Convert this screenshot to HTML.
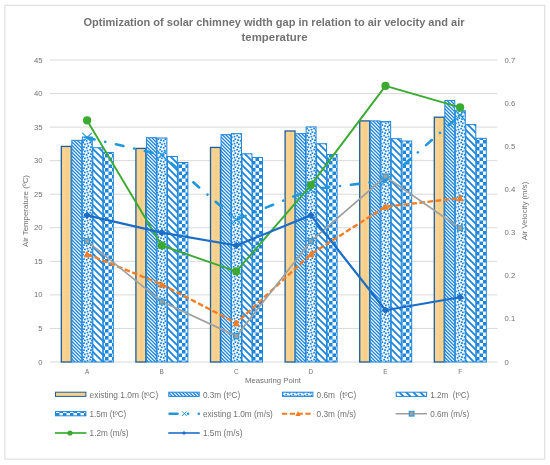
<!DOCTYPE html>
<html lang="en"><head><meta charset="utf-8"><title>Optimization of solar chimney width gap</title>
<style>html,body{margin:0;padding:0;background:#fff}body{width:550px;height:465px;overflow:hidden}svg{display:block;will-change:transform}text{font-family:"Liberation Sans",Arial,sans-serif;fill:#727272}</style></head><body>
<svg width="550" height="465" viewBox="0 0 550 465">
<defs>
<pattern id="pn" patternUnits="userSpaceOnUse" width="7" height="7"><rect width="7" height="7" fill="#fff"/><path d="M-1.00 -8.00l9 9M-1.00 -4.50l9 9M-1.00 -1.00l9 9M-1.00 2.50l9 9M-1.00 6.00l9 9" stroke="#1e86dc" stroke-width="1.3" fill="none"/></pattern>
<pattern id="pw" patternUnits="userSpaceOnUse" width="7" height="7"><rect width="7" height="7" fill="#fff"/><path d="M-1.00 -8.00l9 9M-1.00 -1.00l9 9M-1.00 6.00l9 9" stroke="#1e86dc" stroke-width="1.85" fill="none"/></pattern>
<pattern id="pc" patternUnits="userSpaceOnUse" width="7" height="7"><rect width="7" height="7" fill="#fff"/><rect width="3.5" height="3.5" fill="#1e86dc"/><rect x="3.5" y="3.5" width="3.5" height="3.5" fill="#1e86dc"/></pattern>
<pattern id="pd" patternUnits="userSpaceOnUse" width="7" height="7"><rect width="7" height="7" fill="#fff"/><path d="M0.000 0.000h0.875v0.875h-0.875zM1.750 0.000h0.875v0.875h-0.875zM2.625 0.000h0.875v0.875h-0.875zM6.125 0.000h0.875v0.875h-0.875zM1.750 0.875h0.875v0.875h-0.875zM2.625 0.875h0.875v0.875h-0.875zM5.250 1.750h0.875v0.875h-0.875zM6.125 1.750h0.875v0.875h-0.875zM2.625 2.625h0.875v0.875h-0.875zM3.500 2.625h0.875v0.875h-0.875zM5.250 2.625h0.875v0.875h-0.875zM6.125 2.625h0.875v0.875h-0.875zM0.000 3.500h0.875v0.875h-0.875zM0.875 3.500h0.875v0.875h-0.875zM2.625 3.500h0.875v0.875h-0.875zM3.500 3.500h0.875v0.875h-0.875zM0.000 4.375h0.875v0.875h-0.875zM0.875 4.375h0.875v0.875h-0.875zM3.500 5.250h0.875v0.875h-0.875zM4.375 5.250h0.875v0.875h-0.875zM0.000 6.125h0.875v0.875h-0.875zM3.500 6.125h0.875v0.875h-0.875zM4.375 6.125h0.875v0.875h-0.875zM6.125 6.125h0.875v0.875h-0.875z" fill="#1e86dc"/></pattern>
<linearGradient id="tg" x1="0" y1="0" x2="1" y2="0"><stop offset="0" stop-color="#f5cc88"/><stop offset="0.3" stop-color="#f9d595"/><stop offset="0.55" stop-color="#f5cd8a"/><stop offset="0.8" stop-color="#f9d492"/><stop offset="1" stop-color="#fbdc98"/></linearGradient>
</defs>
<rect x="0" y="0" width="550" height="465" fill="#fff"/>
<rect x="4.9" y="5.2" width="539.8" height="453.9" fill="#fff" stroke="#d9d9d9" stroke-width="1"/>
<text x="274" y="26" text-anchor="middle" font-size="11.2" font-weight="bold" fill="#666666" textLength="381" lengthAdjust="spacingAndGlyphs">Optimization of solar chimney width gap in relation to air velocity and air</text>
<text x="274.5" y="41" text-anchor="middle" font-size="11.2" font-weight="bold" fill="#666666" textLength="66" lengthAdjust="spacingAndGlyphs">temperature</text>
<line x1="49.8" x2="497.4" y1="362.00" y2="362.00" stroke="#d9d9d9" stroke-width="1"/>
<text x="42.6" y="364.50" text-anchor="end" font-size="7.7">0</text>
<line x1="49.8" x2="497.4" y1="328.44" y2="328.44" stroke="#d9d9d9" stroke-width="1"/>
<text x="42.6" y="330.94" text-anchor="end" font-size="7.7">5</text>
<line x1="49.8" x2="497.4" y1="294.89" y2="294.89" stroke="#d9d9d9" stroke-width="1"/>
<text x="42.6" y="297.39" text-anchor="end" font-size="7.7">10</text>
<line x1="49.8" x2="497.4" y1="261.33" y2="261.33" stroke="#d9d9d9" stroke-width="1"/>
<text x="42.6" y="263.83" text-anchor="end" font-size="7.7">15</text>
<line x1="49.8" x2="497.4" y1="227.78" y2="227.78" stroke="#d9d9d9" stroke-width="1"/>
<text x="42.6" y="230.28" text-anchor="end" font-size="7.7">20</text>
<line x1="49.8" x2="497.4" y1="194.22" y2="194.22" stroke="#d9d9d9" stroke-width="1"/>
<text x="42.6" y="196.72" text-anchor="end" font-size="7.7">25</text>
<line x1="49.8" x2="497.4" y1="160.67" y2="160.67" stroke="#d9d9d9" stroke-width="1"/>
<text x="42.6" y="163.17" text-anchor="end" font-size="7.7">30</text>
<line x1="49.8" x2="497.4" y1="127.11" y2="127.11" stroke="#d9d9d9" stroke-width="1"/>
<text x="42.6" y="129.61" text-anchor="end" font-size="7.7">35</text>
<line x1="49.8" x2="497.4" y1="93.56" y2="93.56" stroke="#d9d9d9" stroke-width="1"/>
<text x="42.6" y="96.06" text-anchor="end" font-size="7.7">40</text>
<line x1="49.8" x2="497.4" y1="60.00" y2="60.00" stroke="#d9d9d9" stroke-width="1"/>
<text x="42.6" y="62.50" text-anchor="end" font-size="7.7">45</text>
<text x="504.6" y="364.50" font-size="7.7">0</text>
<text x="504.6" y="321.36" font-size="7.7">0.1</text>
<text x="504.6" y="278.21" font-size="7.7">0.2</text>
<text x="504.6" y="235.07" font-size="7.7">0.3</text>
<text x="504.6" y="191.93" font-size="7.7">0.4</text>
<text x="504.6" y="148.79" font-size="7.7">0.5</text>
<text x="504.6" y="105.64" font-size="7.7">0.6</text>
<text x="504.6" y="62.50" font-size="7.7">0.7</text>
<text x="87.10" y="374" text-anchor="middle" font-size="6.4">A</text>
<text x="161.70" y="374" text-anchor="middle" font-size="6.4">B</text>
<text x="236.30" y="374" text-anchor="middle" font-size="6.4">C</text>
<text x="310.90" y="374" text-anchor="middle" font-size="6.4">D</text>
<text x="385.50" y="374" text-anchor="middle" font-size="6.4">E</text>
<text x="460.10" y="374" text-anchor="middle" font-size="6.4">F</text>
<text x="273" y="383" text-anchor="middle" font-size="7.8" textLength="56" lengthAdjust="spacingAndGlyphs">Measuring Point</text>
<text transform="translate(27.6,211) rotate(-90)" text-anchor="middle" font-size="7.8" textLength="72" lengthAdjust="spacingAndGlyphs">Air Temperature (ºC)</text>
<text transform="translate(526.7,211) rotate(-90)" text-anchor="middle" font-size="7.8" textLength="58.5" lengthAdjust="spacingAndGlyphs">Air Velocity (m/s)</text>
<rect x="61.30" y="146.40" width="9.92" height="215.60" fill="url(#tg)" stroke="#1d5f9c" stroke-width="1.3"/>
<rect x="71.82" y="140.36" width="9.92" height="221.64" fill="url(#pn)" stroke="#1e86dc" stroke-width="1.0"/>
<rect x="82.34" y="137.01" width="9.92" height="224.99" fill="url(#pd)" stroke="#1e86dc" stroke-width="1.0"/>
<rect x="92.86" y="147.74" width="9.92" height="214.26" fill="url(#pw)" stroke="#1e86dc" stroke-width="1.0"/>
<rect x="103.38" y="152.44" width="9.92" height="209.56" fill="url(#pc)" stroke="#1e86dc" stroke-width="1.0"/>
<rect x="135.90" y="148.42" width="9.92" height="213.58" fill="url(#tg)" stroke="#1d5f9c" stroke-width="1.3"/>
<rect x="146.42" y="137.68" width="9.92" height="224.32" fill="url(#pn)" stroke="#1e86dc" stroke-width="1.0"/>
<rect x="156.94" y="138.01" width="9.92" height="223.99" fill="url(#pd)" stroke="#1e86dc" stroke-width="1.0"/>
<rect x="167.46" y="156.47" width="9.92" height="205.53" fill="url(#pw)" stroke="#1e86dc" stroke-width="1.0"/>
<rect x="177.98" y="162.51" width="9.92" height="199.49" fill="url(#pc)" stroke="#1e86dc" stroke-width="1.0"/>
<rect x="210.50" y="147.41" width="9.92" height="214.59" fill="url(#tg)" stroke="#1d5f9c" stroke-width="1.3"/>
<rect x="221.02" y="134.66" width="9.92" height="227.34" fill="url(#pn)" stroke="#1e86dc" stroke-width="1.0"/>
<rect x="231.54" y="133.65" width="9.92" height="228.35" fill="url(#pd)" stroke="#1e86dc" stroke-width="1.0"/>
<rect x="242.06" y="153.78" width="9.92" height="208.22" fill="url(#pw)" stroke="#1e86dc" stroke-width="1.0"/>
<rect x="252.58" y="157.48" width="9.92" height="204.52" fill="url(#pc)" stroke="#1e86dc" stroke-width="1.0"/>
<rect x="285.10" y="130.97" width="9.92" height="231.03" fill="url(#tg)" stroke="#1d5f9c" stroke-width="1.3"/>
<rect x="295.62" y="133.65" width="9.92" height="228.35" fill="url(#pn)" stroke="#1e86dc" stroke-width="1.0"/>
<rect x="306.14" y="126.94" width="9.92" height="235.06" fill="url(#pd)" stroke="#1e86dc" stroke-width="1.0"/>
<rect x="316.66" y="143.72" width="9.92" height="218.28" fill="url(#pw)" stroke="#1e86dc" stroke-width="1.0"/>
<rect x="327.18" y="154.46" width="9.92" height="207.54" fill="url(#pc)" stroke="#1e86dc" stroke-width="1.0"/>
<rect x="359.70" y="120.90" width="9.92" height="241.10" fill="url(#tg)" stroke="#1d5f9c" stroke-width="1.3"/>
<rect x="370.22" y="120.90" width="9.92" height="241.10" fill="url(#pn)" stroke="#1e86dc" stroke-width="1.0"/>
<rect x="380.74" y="121.57" width="9.92" height="240.43" fill="url(#pd)" stroke="#1e86dc" stroke-width="1.0"/>
<rect x="391.26" y="138.68" width="9.92" height="223.32" fill="url(#pw)" stroke="#1e86dc" stroke-width="1.0"/>
<rect x="401.78" y="141.03" width="9.92" height="220.97" fill="url(#pc)" stroke="#1e86dc" stroke-width="1.0"/>
<rect x="434.30" y="117.21" width="9.92" height="244.79" fill="url(#tg)" stroke="#1d5f9c" stroke-width="1.3"/>
<rect x="444.82" y="100.43" width="9.92" height="261.57" fill="url(#pn)" stroke="#1e86dc" stroke-width="1.0"/>
<rect x="455.34" y="110.83" width="9.92" height="251.17" fill="url(#pd)" stroke="#1e86dc" stroke-width="1.0"/>
<rect x="465.86" y="124.59" width="9.92" height="237.41" fill="url(#pw)" stroke="#1e86dc" stroke-width="1.0"/>
<rect x="476.38" y="138.35" width="9.92" height="223.65" fill="url(#pc)" stroke="#1e86dc" stroke-width="1.0"/>
<polyline points="87.10,137.66 161.70,154.91 236.30,219.63 310.90,189.43 385.50,180.80 460.10,115.22" fill="none" stroke="#1f97dc" stroke-width="2.6" stroke-linecap="round" stroke-dasharray="7.7 10.95 0.01 10.95"/>
<path d="M82.30 132.86l9.6 9.6m0 -9.6l-9.6 9.6" stroke="#1f97dc" stroke-width="1.15" fill="none"/>
<path d="M156.90 150.11l9.6 9.6m0 -9.6l-9.6 9.6" stroke="#1f97dc" stroke-width="1.15" fill="none"/>
<path d="M231.50 214.83l9.6 9.6m0 -9.6l-9.6 9.6" stroke="#1f97dc" stroke-width="1.15" fill="none"/>
<path d="M306.10 184.63l9.6 9.6m0 -9.6l-9.6 9.6" stroke="#1f97dc" stroke-width="1.15" fill="none"/>
<path d="M380.70 176.00l9.6 9.6m0 -9.6l-9.6 9.6" stroke="#1f97dc" stroke-width="1.15" fill="none"/>
<path d="M455.30 110.42l9.6 9.6m0 -9.6l-9.6 9.6" stroke="#1f97dc" stroke-width="1.15" fill="none"/>
<polyline points="87.10,254.14 161.70,284.34 236.30,323.17 310.90,254.14 385.50,206.69 460.10,198.06" fill="none" stroke="#f57c20" stroke-width="2.3" stroke-dasharray="5.6 2.5"/>
<path d="M87.10 250.44l3.6 6.8h-7.2z" fill="#f57c20"/>
<path d="M161.70 280.64l3.6 6.8h-7.2z" fill="#f57c20"/>
<path d="M236.30 319.47l3.6 6.8h-7.2z" fill="#f57c20"/>
<path d="M310.90 250.44l3.6 6.8h-7.2z" fill="#f57c20"/>
<path d="M385.50 202.99l3.6 6.8h-7.2z" fill="#f57c20"/>
<path d="M460.10 194.36l3.6 6.8h-7.2z" fill="#f57c20"/>
<polyline points="87.10,241.20 161.70,301.60 236.30,336.11 310.90,241.20 385.50,176.49 460.10,228.26" fill="none" stroke="#a0a0a0" stroke-width="1.7"/>
<rect x="84.60" y="238.70" width="5" height="5" fill="#a0a0a0" stroke="#1f97dc" stroke-width="1"/>
<rect x="159.20" y="299.10" width="5" height="5" fill="#a0a0a0" stroke="#1f97dc" stroke-width="1"/>
<rect x="233.80" y="333.61" width="5" height="5" fill="#a0a0a0" stroke="#1f97dc" stroke-width="1"/>
<rect x="308.40" y="238.70" width="5" height="5" fill="#a0a0a0" stroke="#1f97dc" stroke-width="1"/>
<rect x="383.00" y="173.99" width="5" height="5" fill="#a0a0a0" stroke="#1f97dc" stroke-width="1"/>
<rect x="457.60" y="225.76" width="5" height="5" fill="#a0a0a0" stroke="#1f97dc" stroke-width="1"/>
<polyline points="87.10,120.40 161.70,245.51 236.30,271.40 310.90,185.11 385.50,85.89 460.10,107.46" fill="none" stroke="#3aaa31" stroke-width="1.9" stroke-linejoin="round"/>
<circle cx="87.10" cy="120.40" r="4.1" fill="#3aaa31"/>
<circle cx="161.70" cy="245.51" r="4.1" fill="#3aaa31"/>
<circle cx="236.30" cy="271.40" r="4.1" fill="#3aaa31"/>
<circle cx="310.90" cy="185.11" r="4.1" fill="#3aaa31"/>
<circle cx="385.50" cy="85.89" r="4.1" fill="#3aaa31"/>
<circle cx="460.10" cy="107.46" r="4.1" fill="#3aaa31"/>
<polyline points="87.10,215.31 161.70,232.57 236.30,245.51 310.90,215.31 385.50,310.23 460.10,297.29" fill="none" stroke="#1b6dc8" stroke-width="2.2" stroke-linejoin="round"/>
<path d="M87.10 211.61l3.9 3.7l-3.9 3.7l-3.9 -3.7z" fill="#1b6dc8"/>
<path d="M161.70 228.87l3.9 3.7l-3.9 3.7l-3.9 -3.7z" fill="#1b6dc8"/>
<path d="M236.30 241.81l3.9 3.7l-3.9 3.7l-3.9 -3.7z" fill="#1b6dc8"/>
<path d="M310.90 211.61l3.9 3.7l-3.9 3.7l-3.9 -3.7z" fill="#1b6dc8"/>
<path d="M385.50 306.53l3.9 3.7l-3.9 3.7l-3.9 -3.7z" fill="#1b6dc8"/>
<path d="M460.10 293.59l3.9 3.7l-3.9 3.7l-3.9 -3.7z" fill="#1b6dc8"/>
<rect x="55.50" y="392.20" width="30.40" height="4.2" fill="#f8d190" stroke="#1d5f9c" stroke-width="1.0"/>
<text x="89.60" y="397.60" font-size="8.6" fill="#787878" textLength="68.6" lengthAdjust="spacingAndGlyphs" xml:space="preserve">existing 1.0m (tºC)</text>
<rect x="168.80" y="392.20" width="30.40" height="4.2" fill="url(#pn)" stroke="#1e86dc" stroke-width="1.0"/>
<text x="202.90" y="397.60" font-size="8.6" fill="#787878" textLength="37.3" lengthAdjust="spacingAndGlyphs" xml:space="preserve">0.3m (tºC)</text>
<rect x="282.50" y="392.20" width="30.40" height="4.2" fill="url(#pd)" stroke="#1e86dc" stroke-width="1.0"/>
<text x="316.60" y="397.60" font-size="8.6" fill="#787878" textLength="39.7" lengthAdjust="spacingAndGlyphs" xml:space="preserve">0.6m  (tºC)</text>
<rect x="396.20" y="392.20" width="30.40" height="4.2" fill="url(#pw)" stroke="#1e86dc" stroke-width="1.0"/>
<text x="430.30" y="397.60" font-size="8.6" fill="#787878" textLength="38.9" lengthAdjust="spacingAndGlyphs" xml:space="preserve">1.2m  (tºC)</text>
<rect x="55.50" y="411.60" width="30.40" height="4.2" fill="url(#pc)" stroke="#1e86dc" stroke-width="1.0"/>
<text x="89.60" y="417.00" font-size="8.6" fill="#787878" textLength="36.6" lengthAdjust="spacingAndGlyphs" xml:space="preserve">1.5m (tºC)</text>
<line x1="169.60" x2="177.50" y1="413.70" y2="413.70" stroke="#1f97dc" stroke-width="2.6" stroke-linecap="round"/>
<path d="M182.10 411.40l4.6 4.6m0 -4.6l-4.6 4.6" stroke="#1f97dc" stroke-width="1" fill="none"/>
<circle cx="188.10" cy="413.70" r="1.3" fill="#1f97dc"/>
<circle cx="198.80" cy="413.70" r="1.3" fill="#1f97dc"/>
<text x="202.90" y="417.00" font-size="8.6" fill="#787878" textLength="70.0" lengthAdjust="spacingAndGlyphs" xml:space="preserve">existing 1.0m (m/s)</text>
<line x1="282.00" x2="313.40" y1="413.70" y2="413.70" stroke="#f57c20" stroke-width="2" stroke-dasharray="5.2 2.6"/>
<path d="M298.00 410.90l2.6 5h-5.2z" fill="#f57c20"/>
<text x="316.60" y="417.00" font-size="8.6" fill="#787878" textLength="39.5" lengthAdjust="spacingAndGlyphs" xml:space="preserve">0.3m (m/s)</text>
<line x1="395.70" x2="427.10" y1="413.70" y2="413.70" stroke="#a0a0a0" stroke-width="1.6"/>
<rect x="409.20" y="411.30" width="4.8" height="4.8" fill="#a0a0a0" stroke="#1f97dc" stroke-width="1"/>
<text x="430.30" y="417.00" font-size="8.6" fill="#787878" textLength="38.9" lengthAdjust="spacingAndGlyphs" xml:space="preserve">0.6m (m/s)</text>
<line x1="55.00" x2="86.40" y1="433.00" y2="433.00" stroke="#3aaa31" stroke-width="1.7"/>
<circle cx="70.00" cy="433.00" r="2.6" fill="#3aaa31"/>
<text x="89.60" y="436.30" font-size="8.6" fill="#787878" textLength="39.0" lengthAdjust="spacingAndGlyphs" xml:space="preserve">1.2m (m/s)</text>
<line x1="168.30" x2="199.70" y1="433.00" y2="433.00" stroke="#1b6dc8" stroke-width="1.6"/>
<path d="M184.00 431.00l2 2l-2 2l-2 -2z" fill="#1b6dc8"/>
<text x="202.90" y="436.30" font-size="8.6" fill="#787878" textLength="39.5" lengthAdjust="spacingAndGlyphs" xml:space="preserve">1.5m (m/s)</text>
</svg></body></html>
